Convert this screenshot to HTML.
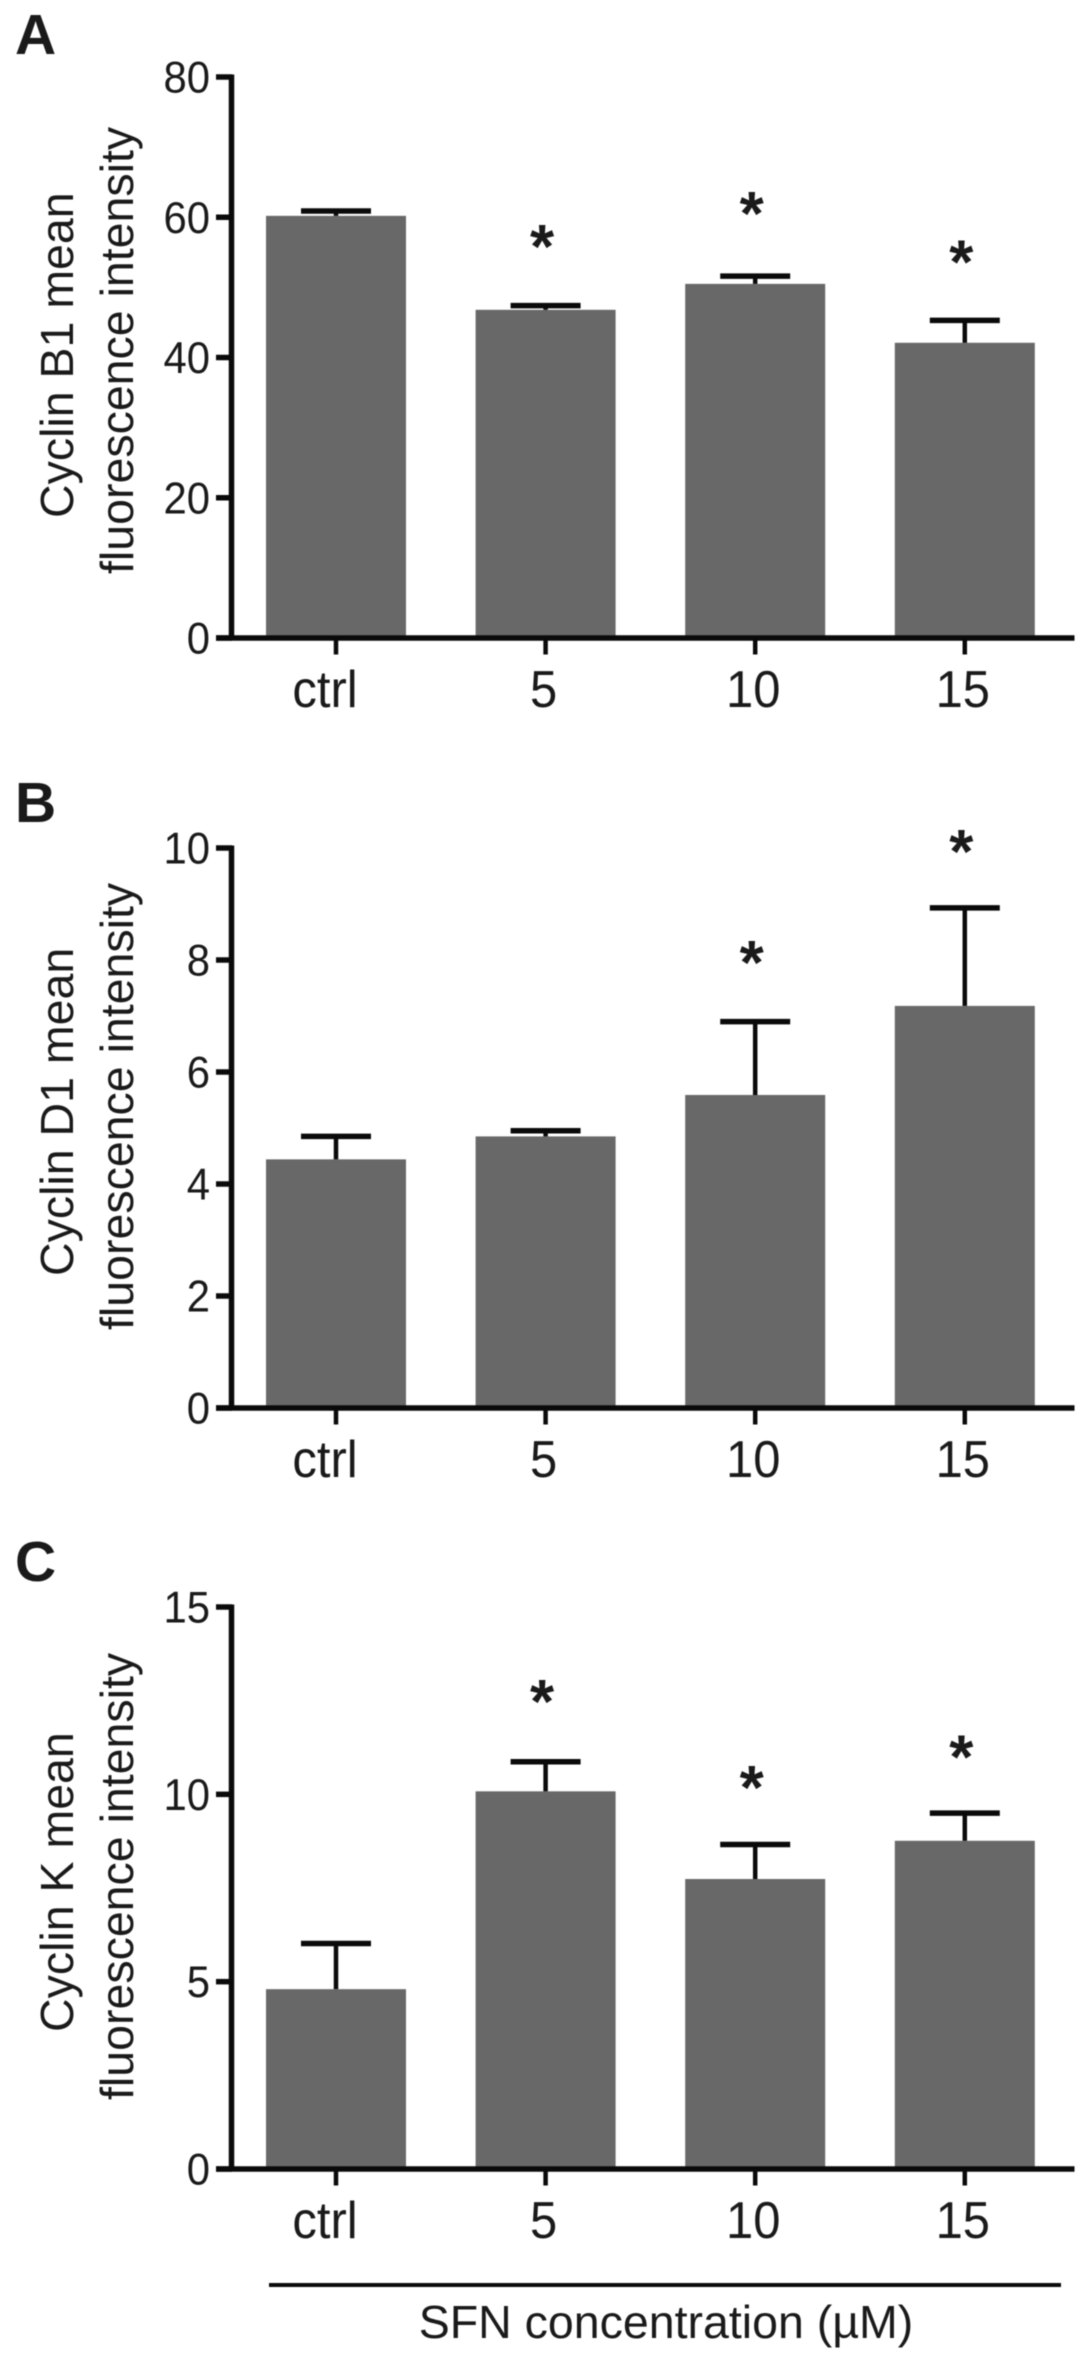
<!DOCTYPE html>
<html lang="en">
<head>
<meta charset="utf-8">
<title>Cyclin mean fluorescence intensity</title>
<style>
html,body{margin:0;padding:0;background:#fff;}
svg{display:block;filter:blur(0.6px);}
text{font-family:"Liberation Sans",Arial,sans-serif;fill:#1a1a1a;}
</style>
</head>
<body>
<svg id="figure" xmlns="http://www.w3.org/2000/svg" width="1087" height="2361" viewBox="0 0 1087 2361"></svg>
<script>
const categories = ['ctrl', '5', '10', '15'];

const cyclinB1Means = [60.2, 46.8, 50.5, 42.1];
const cyclinB1Upper = [60.9, 47.4, 51.6, 45.3];
const cyclinB1Stars = [null, 56.9, 61.6, 54.7];
const cyclinB1Ticks = [0, 20, 40, 60, 80];

const cyclinD1Means = [4.44, 4.85, 5.59, 7.18];
const cyclinD1Upper = [4.85, 4.95, 6.90, 8.93];
const cyclinD1Stars = [null, null, 8.09, 10.07];
const cyclinD1Ticks = [0, 2, 4, 6, 8, 10];

const cyclinKMeans = [4.80, 10.08, 7.74, 8.76];
const cyclinKUpper = [6.02, 10.87, 8.66, 9.50];
const cyclinKStars = [null, 12.68, 10.38, 11.2];
const cyclinKTicks = [0, 5, 10, 15];

const NS = 'http://www.w3.org/2000/svg';
const svg = document.getElementById('figure');

function makeX(i) { return 336 + i * 209.6; }
function makeY(y0, yTop, maxV) { return v => y0 - v * (y0 - yTop) / maxV; }

function addLine(parent, x1, y1, x2, y2, w, color) {
  const l = document.createElementNS(NS, 'line');
  l.setAttribute('x1', x1);
  l.setAttribute('y1', y1);
  l.setAttribute('x2', x2);
  l.setAttribute('y2', y2);
  l.setAttribute('stroke', color || '#0a0a0a');
  l.setAttribute('stroke-width', w);
  parent.appendChild(l);
  return l;
}
function addText(parent, str, x, y, size, anchor, weight, rot, sx) {
  const t = document.createElementNS(NS, 'text');
  t.setAttribute('font-size', size);
  t.setAttribute('text-anchor', anchor || 'start');
  if (weight) t.setAttribute('font-weight', weight);
  if (sx) {
    t.setAttribute('transform', 'translate(' + x + ' ' + y + ') scale(' + sx + ' 1)');
  } else {
    t.setAttribute('x', x);
    t.setAttribute('y', y);
    if (rot) t.setAttribute('transform', 'rotate(-90 ' + x + ' ' + y + ')');
  }
  t.textContent = str;
  parent.appendChild(t);
  return t;
}

function drawPanel(p) {
  const g = document.createElementNS(NS, 'g');
  
  
  svg.appendChild(g);
  const y = makeY(p.y0, p.yTop, p.ticks[p.ticks.length - 1]);

  const letter = addText(g, p.letter, 15, p.letterY, 57, 'start', 'bold');
  
  

  p.means.forEach(function (m, i) {
    const cx = makeX(i);
    const bar = document.createElementNS(NS, 'rect');
    bar.setAttribute('x', cx - 70);
    bar.setAttribute('y', y(m));
    bar.setAttribute('width', 140);
    bar.setAttribute('height', p.y0 - y(m));
    bar.setAttribute('fill', '#686868');
    
    
    g.appendChild(bar);

    const stem = addLine(g, cx, y(m), cx, y(p.upper[i]), 4.5);
    
    
    const cap = addLine(g, cx - 35, y(p.upper[i]), cx + 35, y(p.upper[i]), 5.5);
    
    

    if (p.stars[i] !== null) {
      const star = addText(g, '*', cx - 3.5, y(p.stars[i]) + 29, 62, 'middle', 'bold');
      
      
    }

    const tick = addLine(g, cx, p.y0, cx, p.y0 + 16.5, 4.5);
    
    
    const offset = i === 0 ? -11 : -2;
    const label = addText(g, categories[i], cx + offset, p.labelY, 51.5, 'middle', null, false, 0.95);
    
    
  });

  const yAxis = addLine(g, 231.5, p.yTop - 2.5, 231.5, p.y0 + 2.5, 5.5);
  
  
  const xAxis = addLine(g, 216, p.y0, 1074.5, p.y0, 5.5);
  
  

  p.ticks.forEach(function (v) {
    const tick = addLine(g, 216, y(v), 232, y(v), 5.5);
    
    
    const label = addText(g, String(v), 210, y(v) + 15.5, 44.5, 'end', null, false, 0.94);
    
    
  });

  const t1 = addText(g, p.title, 73, p.title1Y, 46.5, 'start', null, true);
  
  
  const t2 = addText(g, 'fluorescence intensity', 133, p.title2Y, 46.5, 'start', null, true);
  
  
}

drawPanel({ id: 'a', letter: 'A', letterY: 54, y0: 638, yTop: 77, labelY: 707, title: 'Cyclin B1 mean', title1Y: 518, title2Y: 574,
  ticks: cyclinB1Ticks, means: cyclinB1Means, upper: cyclinB1Upper, stars: cyclinB1Stars });
drawPanel({ id: 'b', letter: 'B', letterY: 822, y0: 1408, yTop: 848, labelY: 1477, title: 'Cyclin D1 mean', title1Y: 1276, title2Y: 1330,
  ticks: cyclinD1Ticks, means: cyclinD1Means, upper: cyclinD1Upper, stars: cyclinD1Stars });
drawPanel({ id: 'c', letter: 'C', letterY: 1581, y0: 2169, yTop: 1607, labelY: 2238, title: 'Cyclin K mean', title1Y: 2032, title2Y: 2100,
  ticks: cyclinKTicks, means: cyclinKMeans, upper: cyclinKUpper, stars: cyclinKStars });

const rule = addLine(svg, 269, 2285, 1061, 2285, 4);


const sfnLabel = addText(svg, 'SFN concentration (\u00B5M)', 666, 2338, 46.5, 'middle');


</script>
</body>
</html>
